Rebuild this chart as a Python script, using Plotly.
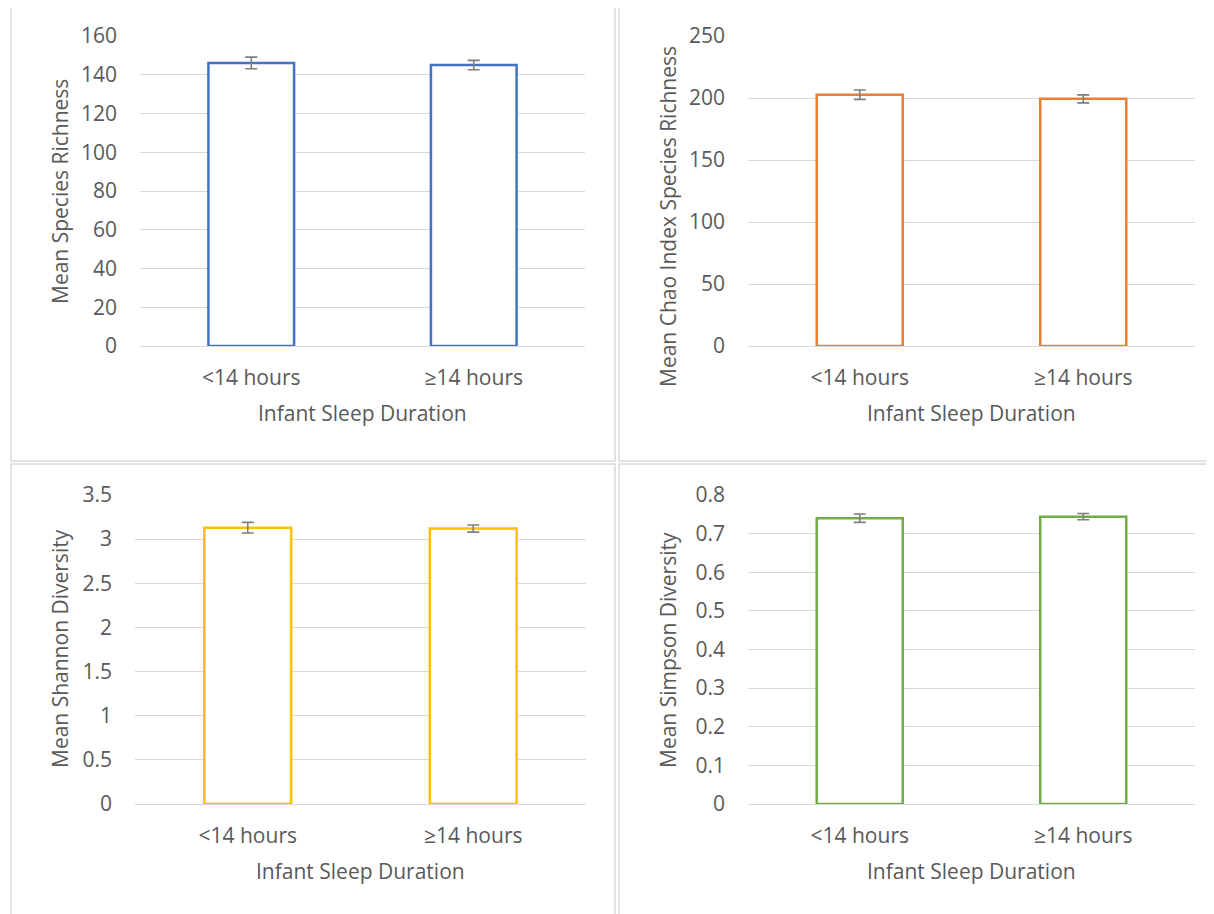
import plotly.graph_objects as go

categories = ["<14 hours", "≥14 hours"]
richness = [146.1, 145.0]
richness_err = [3.0, 2.4]
chao = [202.7, 199.3]
chao_err = [3.8, 3.2]
shannon = [3.13, 3.12]
shannon_err = [0.06, 0.04]
simpson = [0.740, 0.744]
simpson_err = [0.011, 0.008]
y_titles = ["Mean Species Richness", "Mean Chao Index Species Richness",
            "Mean Shannon Diversity", "Mean Simpson Diversity"]
x_title = "Infant Sleep Duration"

OFF = 8  # default page body margin
W, H = 1214 - OFF, 914 - OFF
FONT = "'Open Sans', sans-serif"
GRAY = "#595959"
FS = 21


def px(x):
    return (x - OFF) / W


def py(y):
    return 1 - (y - OFF) / H


panels = [
    dict(vals=richness, err=richness_err, color="#4472C4", ytitle=y_titles[0],
         x0=140, x1=585, y0=36, y1=346, rng=[0, 160], dtick=20, ttx=60, tty=192),
    dict(vals=chao, err=chao_err, color="#ED7D31", ytitle=y_titles[1],
         x0=748, x1=1195, y0=36, y1=346, rng=[0, 250], dtick=50, ttx=668, tty=216),
    dict(vals=shannon, err=shannon_err, color="#FFC000", ytitle=y_titles[2],
         x0=135, x1=586, y0=495, y1=804, rng=[0, 3.5], dtick=0.5, ttx=60, tty=649),
    dict(vals=simpson, err=simpson_err, color="#70AD47", ytitle=y_titles[3],
         x0=748, x1=1195, y0=495, y1=804, rng=[0, 0.8], dtick=0.1, ttx=668, tty=650),
]

fig = go.Figure()
layout = dict(width=W, height=H, margin=dict(l=0, r=0, t=0, b=0, autoexpand=False),
              paper_bgcolor="white", plot_bgcolor="white", showlegend=False,
              font=dict(family=FONT, size=FS, color=GRAY))
annotations = []
shapes = []

for i, p in enumerate(panels, start=1):
    xa = "x" if i == 1 else f"x{i}"
    ya = "y" if i == 1 else f"y{i}"
    fig.add_trace(go.Bar(
        x=categories, y=p["vals"], width=0.385,
        marker=dict(color="white", line=dict(color=p["color"], width=2.5)),
        error_y=dict(type="data", array=p["err"], color="#7F7F7F", thickness=1.6, width=6),
        xaxis=xa, yaxis=ya))
    xkey = "xaxis" if i == 1 else f"xaxis{i}"
    ykey = "yaxis" if i == 1 else f"yaxis{i}"
    layout[xkey] = dict(domain=[px(p["x0"]), px(p["x1"])], anchor=ya, automargin=False,
                        range=[-0.5, 1.5], showgrid=False, showline=False,
                        ticks="", tickfont=dict(size=FS, color=GRAY),
                        ticklabelstandoff=17)
    layout[ykey] = dict(domain=[py(p["y1"]), py(p["y0"])], anchor=xa, automargin=False,
                        range=p["rng"], dtick=p["dtick"], showgrid=True,
                        gridcolor="#D9D9D9", gridwidth=1, zeroline=True,
                        zerolinecolor="#D9D9D9", zerolinewidth=1,
                        showline=False, ticks="",
                        tickfont=dict(size=FS, color=GRAY), ticklabelstandoff=22)
    annotations.append(dict(text=p["ytitle"], x=px(p["ttx"]), y=py(p["tty"]),
                            xref="paper", yref="paper", showarrow=False, textangle=-90,
                            font=dict(size=FS, color=GRAY), xanchor="center", yanchor="middle"))
    annotations.append(dict(text=x_title, x=px((p["x0"] + p["x1"]) / 2), y=py(p["y1"] + 67),
                            xref="paper", yref="paper", showarrow=False,
                            font=dict(size=FS, color=GRAY), xanchor="center", yanchor="middle"))

for (x0, y0, x1, y1) in [(11, 7, 615, 461), (619, 7, 1220, 461), (11, 464, 615, 920), (619, 464, 1220, 920)]:
    shapes.append(dict(type="rect", xref="paper", yref="paper",
                       x0=px(x0), x1=px(x1), y0=py(y1), y1=py(y0),
                       line=dict(color="#D9D9D9", width=1.5), fillcolor="rgba(0,0,0,0)"))

layout["annotations"] = annotations
layout["shapes"] = shapes
fig.update_layout(**layout)
fig.write_html("out.html")
